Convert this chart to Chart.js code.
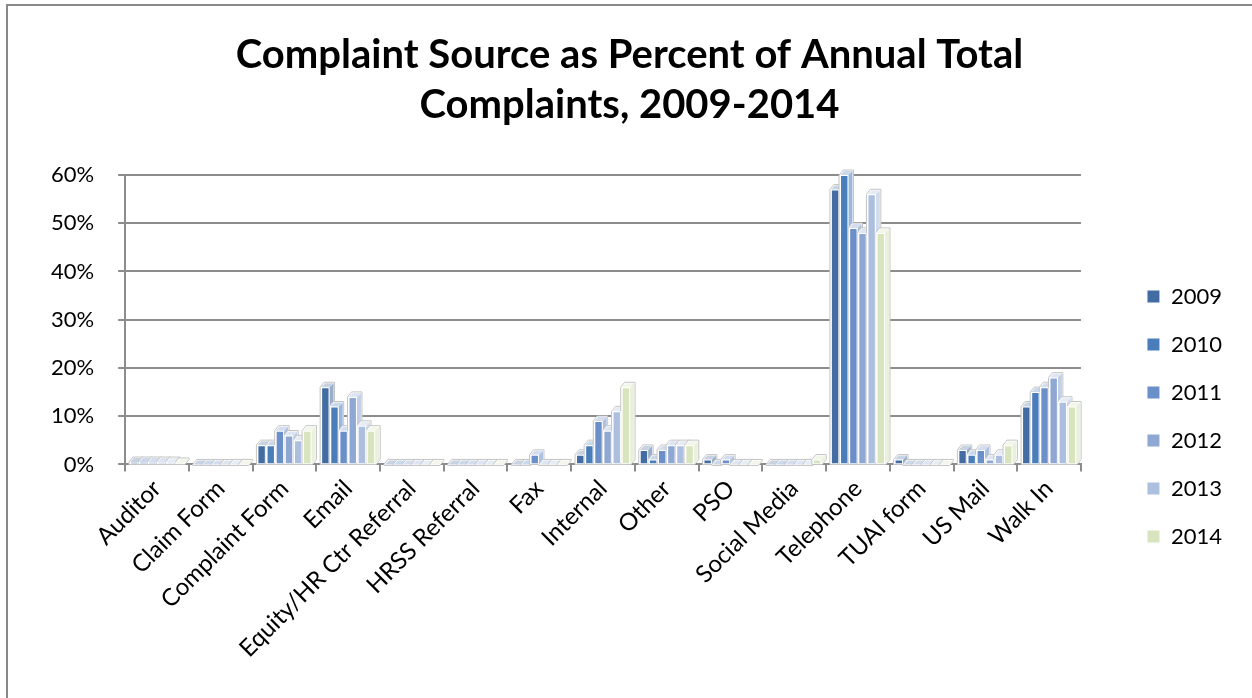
<!DOCTYPE html>
<html>
<head>
<meta charset="utf-8">
<script src="https://cdn.jsdelivr.net/npm/chart.js@4/dist/chart.umd.min.js"></script>
<style>
  html, body { margin: 0; padding: 0; background: #fff; }
  #frame {
    position: absolute; left: 6px; top: 4px; width: 1246px; height: 694px;
    border-left: 2px solid #898989; border-top: 2px solid #898989;
    box-sizing: border-box;
  }
  #wrap { position: absolute; left: 0; top: 0; width: 1252px; height: 698px; }
</style>
</head>
<body>
<div id="frame"></div>
<div id="wrap"><canvas id="chart" width="1252" height="698"></canvas></div>
<script>
// Complaint sources (categories) and share of each year's total complaints, in percent
const categories = ['Auditor', 'Claim Form', 'Complaint Form', 'Email', 'Equity/HR Ctr Referral',
  'HRSS Referral', 'Fax', 'Internal', 'Other', 'PSO', 'Social Media', 'Telephone',
  'TUAI form', 'US Mail', 'Walk In'];
const years = ['2009', '2010', '2011', '2012', '2013', '2014'];
const pct2009 = [0.5, 0, 4, 16, 0, 0, 0, 2, 3, 1, 0, 57, 1, 3, 12];
const pct2010 = [0.5, 0, 4, 12, 0, 0, 0, 4, 1, 0, 0, 60, 0, 2, 15];
const pct2011 = [0.5, 0, 7, 7, 0, 0, 2, 9, 3, 1, 0, 49, 0, 3, 16];
const pct2012 = [0.5, 0, 6, 14, 0, 0, 0, 7, 4, 0, 0, 48, 0, 1, 18];
const pct2013 = [0.5, 0, 5, 8, 0, 0, 0, 11, 4, 0, 0, 56, 0, 2, 13];
const pct2014 = [0.3, 0, 7, 7, 0, 0, 0, 16, 4, 0, 1, 48, 0, 4, 12];
const yTicks = [0, 10, 20, 30, 40, 50, 60];

const seriesValues = [pct2009, pct2010, pct2011, pct2012, pct2013, pct2014];
const seriesColors = ['#436CA3', '#4A7EBB', '#6B8FC8', '#8FA7D3', '#ADBFDF', '#D7E4BD'];

const FONT = 'Lato, "Open Sans", sans-serif';

function mix(hex, target, t) {
  const n = parseInt(hex.slice(1), 16);
  const r = (n >> 16) & 255, g = (n >> 8) & 255, b = n & 255;
  const m = v => Math.round(v + (target - v) * t);
  return `rgb(${m(r)},${m(g)},${m(b)})`;
}

// Gives each column a shallow top and right face so it reads as a 3-D bar
const barDepth = {
  id: 'barDepth',
  beforeDatasetsDraw(chart) {
    const ctx = chart.ctx;
    const d = 4;
    chart.data.datasets.forEach((ds, i) => {
      const meta = chart.getDatasetMeta(i);
      const col = ds.backgroundColor;
      meta.data.forEach(bar => {
        const p = bar.getProps(['x', 'y', 'base', 'width'], true);
        const l = p.x - p.width / 2, r = p.x + p.width / 2;
        const top = Math.min(p.y, p.base), base = p.base;
        ctx.save();
        ctx.lineJoin = 'round';
        // outer halo
        ctx.beginPath();
        ctx.moveTo(l - 1, base + 1);
        ctx.lineTo(l - 1, top);
        ctx.lineTo(l + d - 1, top - d - 1);
        ctx.lineTo(r + d + 1, top - d - 1);
        ctx.lineTo(r + d + 1, base - d);
        ctx.lineTo(r + 1, base + 1);
        ctx.closePath();
        ctx.fillStyle = '#ffffff';
        ctx.fill();
        ctx.strokeStyle = '#c4c4c4';
        ctx.lineWidth = 1;
        ctx.stroke();
        // right face
        ctx.beginPath();
        ctx.moveTo(r, top);
        ctx.lineTo(r + d, top - d);
        ctx.lineTo(r + d, base - d);
        ctx.lineTo(r, base);
        ctx.closePath();
        ctx.fillStyle = mix(col, 255, 0.45);
        ctx.fill();
        // top face
        ctx.beginPath();
        ctx.moveTo(l, top);
        ctx.lineTo(l + d, top - d);
        ctx.lineTo(r + d, top - d);
        ctx.lineTo(r, top);
        ctx.closePath();
        ctx.fillStyle = mix(col, 255, 0.7);
        ctx.fill();
        ctx.restore();
      });
    });
  }
};

// The legend sits centred in the whole area below the title, not just beside the plot
const legendBand = {
  id: 'legendBand',
  afterLayout(chart) {
    const lg = chart.legend;
    if (!lg || !chart.titleBlock) return;
    lg.top = chart.titleBlock.bottom;
    lg.bottom = chart.height - 40;
    lg.height = lg.bottom - lg.top;
  }
};

const datasets = years.map((yr, i) => ({
  label: yr,
  data: seriesValues[i],
  backgroundColor: seriesColors[i],
  borderColor: '#ffffff',
  borderWidth: 1,
  borderSkipped: 'bottom',
  categoryPercentage: 0.86,
  barPercentage: 0.92
}));

new Chart(document.getElementById('chart'), {
  type: 'bar',
  data: { labels: categories, datasets },
  plugins: [barDepth, legendBand],
  options: {
    responsive: false,
    animation: false,
    layout: { padding: { left: 27, right: 20, top: 0, bottom: 32 } },
    plugins: {
      title: {
        display: true,
        text: ['Complaint Source as Percent of Annual Total', 'Complaints, 2009-2014'],
        color: '#000',
        font: { family: FONT, size: 40, weight: 'bold', lineHeight: 1.25 },
        padding: { top: 30, bottom: 45 }
      },
      legend: {
        position: 'right',
        labels: {
          color: '#000',
          font: { family: FONT, size: 22 },
          boxWidth: 13,
          boxHeight: 13,
          padding: 26
        }
      },
      tooltip: { enabled: false }
    },
    scales: {
      x: {
        grid: {
          display: true,
          drawOnChartArea: false,
          drawTicks: true,
          tickLength: 7,
          color: '#8c8c8c',
          lineWidth: 2
        },
        border: { display: true, color: '#8c8c8c', width: 2 },
        ticks: {
          color: '#000',
          font: { family: FONT, size: 24 },
          maxRotation: 45,
          minRotation: 45,
          autoSkip: false,
          padding: 3
        }
      },
      y: {
        min: 0,
        max: 60,
        afterBuildTicks: axis => { axis.ticks = yTicks.map(v => ({ value: v })); },
        grid: {
          color: '#8c8c8c',
          lineWidth: 2,
          drawTicks: true,
          tickLength: 7
        },
        border: { display: true, color: '#8c8c8c', width: 2 },
        ticks: {
          color: '#000',
          font: { family: FONT, size: 22 },
          padding: 24,
          callback: v => v + '%'
        }
      },
      // empty strip that keeps the plot clear of the legend
      gap: {
        type: 'linear',
        position: 'right',
        display: true,
        grid: { display: false },
        border: { display: false },
        ticks: { display: false },
        afterFit: s => { s.width = 40; }
      }
    }
  }
});
</script>
</body>
</html>
